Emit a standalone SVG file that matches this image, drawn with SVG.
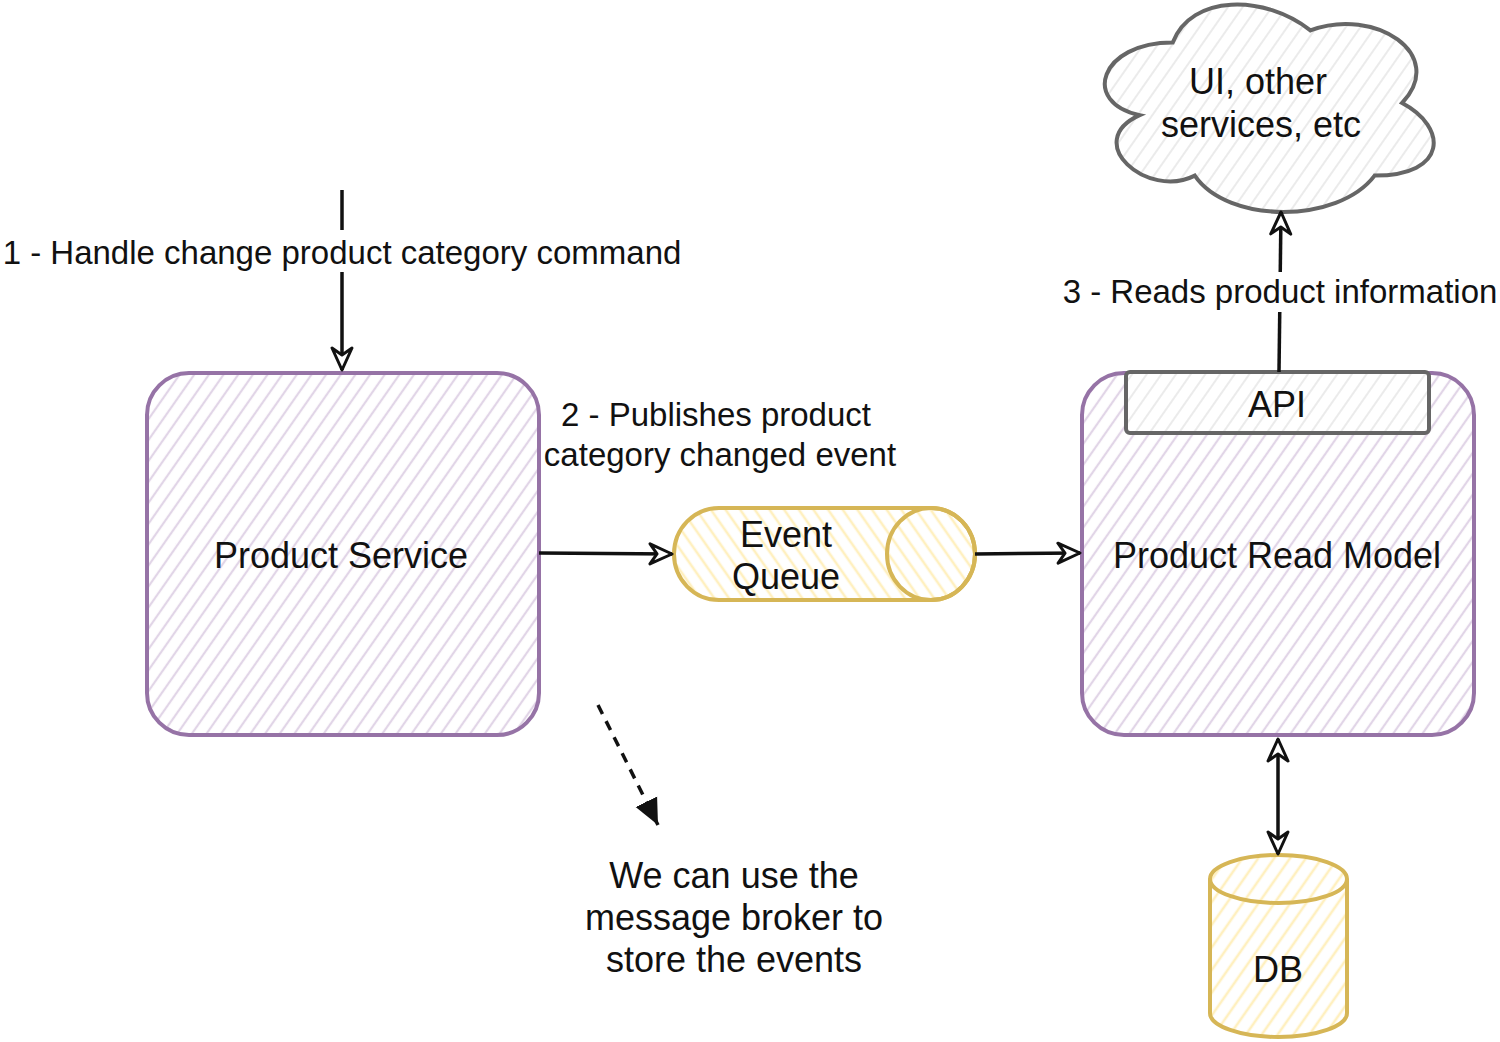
<svg xmlns="http://www.w3.org/2000/svg" width="1500" height="1042" viewBox="0 0 1500 1042">
<style>
  text { font-family: "Liberation Sans", Arial, Helvetica, sans-serif; fill: #111; }
  .node { font-size: 36px; text-anchor: middle; }
  .lbl { font-size: 33px; text-anchor: middle; }
  .purple { fill: url(#hatchPurple); stroke: #9673a6; stroke-width: 4; }
  .yellow { stroke: #d6b656; stroke-width: 4; }
  .grey { stroke: #666666; stroke-width: 4; }
  .edge { fill: none; stroke: #111; stroke-width: 3.5; }
</style>
<defs>
  <pattern id="hatchPurple" patternUnits="userSpaceOnUse" width="12" height="12" patternTransform="rotate(35)">
    <rect width="12" height="12" fill="#ffffff"/>
    <line x1="2" y1="0" x2="2" y2="12" stroke="#e1d5e7" stroke-width="2.2"/>
  </pattern>
  <pattern id="hatchYellow" patternUnits="userSpaceOnUse" width="12" height="12" patternTransform="rotate(-35)">
    <rect width="12" height="12" fill="#ffffff"/>
    <line x1="2" y1="0" x2="2" y2="12" stroke="#fff0bf" stroke-width="2.6"/>
  </pattern>
  <pattern id="hatchYellowDB" patternUnits="userSpaceOnUse" width="13" height="13" patternTransform="rotate(35)">
    <rect width="13" height="13" fill="#ffffff"/>
    <line x1="2" y1="0" x2="2" y2="13" stroke="#fff0bf" stroke-width="2.6"/>
  </pattern>
  <pattern id="hatchGrey" patternUnits="userSpaceOnUse" width="12" height="12" patternTransform="rotate(35)">
    <rect width="12" height="12" fill="#ffffff"/>
    <line x1="2" y1="0" x2="2" y2="12" stroke="#ebebeb" stroke-width="2"/>
  </pattern>
  <marker id="openArrow" markerUnits="userSpaceOnUse" viewBox="0 0 26 26" markerWidth="26" markerHeight="26" refX="24" refY="13" orient="auto-start-reverse">
    <path d="M2,3 L24,13 L2,23 L9,13 Z" fill="#ffffff" stroke="#111" stroke-width="3" stroke-linejoin="round"/>
  </marker>
  <marker id="filledArrow" markerUnits="userSpaceOnUse" viewBox="0 0 28 28" markerWidth="28" markerHeight="28" refX="26" refY="14" orient="auto">
    <path d="M0,2 L26,14 L0,26 Z" fill="#111"/>
  </marker>
</defs>

<rect width="1500" height="1042" fill="#ffffff"/>

<g id="product-service">
  <rect class="purple" x="147" y="373" width="392" height="362" rx="42" ry="42"/>
  <text class="node" x="341" y="568">Product Service</text>
</g>

<g id="product-read-model">
  <rect class="purple" x="1082" y="373" width="392" height="362" rx="42" ry="42"/>
  <text class="node" x="1277" y="568">Product Read Model</text>
</g>

<g id="api">
  <rect class="grey" fill="url(#hatchGrey)" x="1126" y="372" width="303" height="61" rx="4" ry="4"/>
  <text class="node" x="1277" y="417">API</text>
</g>

<g id="event-queue">
  <path class="yellow" fill="url(#hatchYellow)" d="M719,508 L931,508 A44,46 0 0 1 931,600 L719,600 A45,46 0 0 1 719,508 Z"/>
  <ellipse class="yellow" fill="none" cx="931" cy="554" rx="44" ry="46"/>
  <text class="node" x="786" y="547">Event</text>
  <text class="node" x="786" y="589">Queue</text>
</g>

<g id="db">
  <path class="yellow" fill="url(#hatchYellowDB)" d="M1210,879 A68.5,24 0 0 1 1347,879 L1347,1013 A68.5,24 0 0 1 1210,1013 Z"/>
  <path class="yellow" fill="none" d="M1210,879 A68.5,24 0 0 0 1347,879"/>
  <text class="node" x="1278" y="982">DB</text>
</g>

<g id="cloud">
  <path class="grey" fill="url(#hatchGrey)" d="M1172.75,42.5 C1099.35,42.5 1081,103 1139.7,115.1 C1081,141.7 1147,199.8 1194.8,175.6 C1227.8,224 1337.9,224 1374.6,175.6 C1448,175.6 1448,127.2 1402.1,103 C1448,54.6 1374.6,6.2 1310.4,30.4 C1264.5,-5.9 1191.1,-5.9 1172.75,42.5 Z"/>
  <text class="node" x="1258" y="94">UI, other</text>
  <text class="node" x="1261" y="137">services, etc</text>
</g>

<g id="note">
  <text class="node" x="734" y="888">We can use the</text>
  <text class="node" x="734" y="930">message broker to</text>
  <text class="node" x="734" y="972">store the events</text>
</g>

<g id="connectors">
  <path class="edge" d="M342,190 L342,370" marker-end="url(#openArrow)"/>
  <rect x="0" y="230" width="686" height="42" fill="#ffffff"/>
  <text class="lbl" x="342" y="264">1 - Handle change product category command</text>

  <path class="edge" d="M539,553 L672,554" marker-end="url(#openArrow)"/>
  <text class="lbl" x="716" y="426">2 - Publishes product</text>
  <text class="lbl" x="720" y="466">category changed event</text>

  <path class="edge" d="M975,554 L1080,553" marker-end="url(#openArrow)"/>

  <path class="edge" d="M1279,372 L1281,212" marker-end="url(#openArrow)"/>
  <rect x="1060" y="272" width="440" height="40" fill="#ffffff"/>
  <text class="lbl" x="1280" y="303">3 - Reads product information</text>

  <path class="edge" d="M1278,739 L1278,854" marker-start="url(#openArrow)" marker-end="url(#openArrow)"/>

  <path class="edge" d="M598,705 L658,825" stroke-dasharray="10 8" marker-end="url(#filledArrow)"/>
</g>
</svg>
